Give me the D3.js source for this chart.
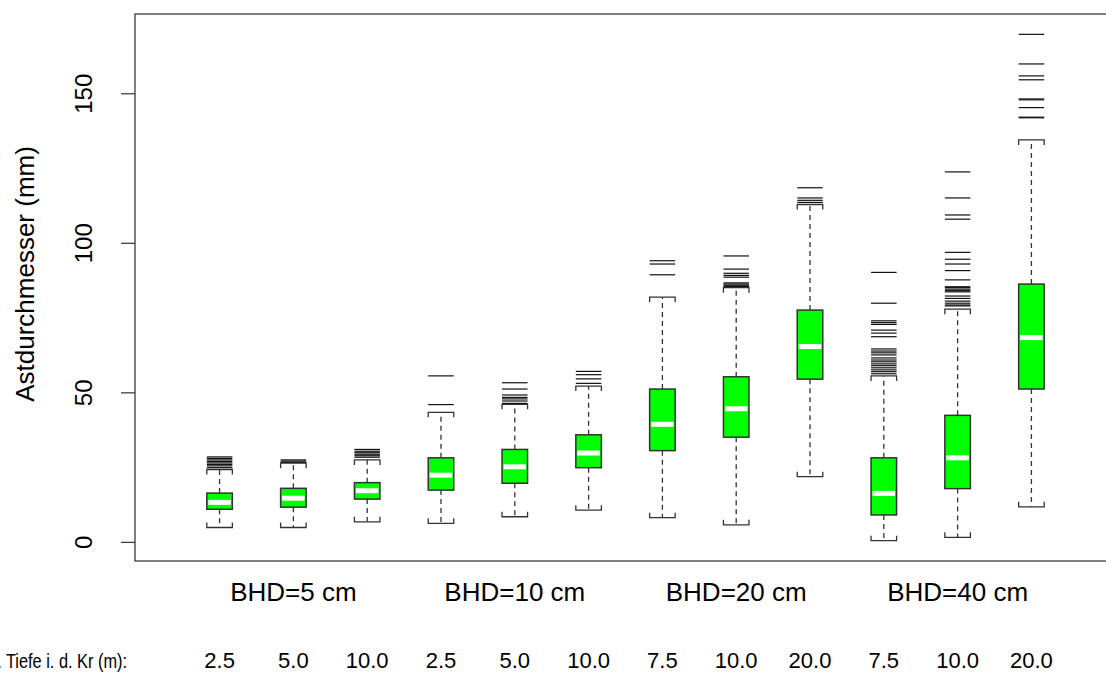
<!DOCTYPE html>
<html>
<head>
<meta charset="utf-8">
<script src="https://cdn.jsdelivr.net/npm/d3@7"></script>
<style>
  html, body { margin: 0; padding: 0; background: #fff; }
  svg { display: block; font-family: "Liberation Sans", Arial, sans-serif; }
</style>
</head>
<body>
<svg id="chart" width="1106" height="673"></svg>
<script>
// Branch diameter by tree size (BHD) and observed depth in the crown
const groups = ["BHD=5 cm", "BHD=10 cm", "BHD=20 cm", "BHD=40 cm"];
const depths = ["2.5", "5.0", "10.0", "2.5", "5.0", "10.0", "7.5", "10.0", "20.0", "7.5", "10.0", "20.0"];
const depthTitle = "Beob. Tiefe i. d. Kr (m):";
const yTicks = [0, 50, 100, 150];

const lowWhisker  = [4.8, 4.8, 6.7, 6.2, 8.4, 10.6, 8.1, 5.7, 21.8, 0.4, 1.5, 11.7];
const q1          = [10.9, 11.6, 14.3, 17.3, 19.6, 24.8, 30.5, 35.0, 54.4, 9.0, 17.8, 51.1];
const medians     = [13.2, 14.6, 17.1, 22.3, 25.1, 29.7, 39.3, 44.5, 65.3, 16.2, 28.1, 68.3];
const q3          = [16.3, 17.9, 19.8, 28.1, 30.9, 35.8, 51.1, 55.2, 77.5, 28.1, 42.3, 86.2];
const highWhisker = [24.2, 26.3, 27.4, 43.3, 46.0, 52.1, 81.8, 85.0, 112.8, 55.5, 77.8, 134.4];
const outliers = [
  [24.8, 25.4, 25.9, 26.4, 26.9, 27.4, 27.9, 28.4],
  [26.6, 27.0, 27.4],
  [28.3, 28.8, 29.3, 29.8, 30.3, 30.9],
  [45.9, 55.5],
  [46.3, 47.1, 47.8, 48.3, 49.1, 51.1, 53.2],
  [53.0, 54.5, 55.9, 57.0],
  [89.3, 92.9, 94.0],
  [85.4, 85.8, 86.2, 86.6, 88.5, 89.1, 89.8, 91.2, 95.6],
  [113.5, 114.2, 115.0, 118.4],
  [56.2, 56.9, 57.5, 58.2, 58.9, 59.5, 60.2, 60.8, 61.5, 62.5, 63.2, 63.8, 64.5,
   68.6, 69.8, 70.8, 72.7, 73.3, 73.9, 79.8, 90.1],
  [78.9, 79.2, 79.8, 80.5, 81.4, 82.2, 83.6, 84.0, 84.5, 85.0, 85.3, 87.6,
   90.7, 92.9, 94.5, 96.8, 107.9, 109.3, 115.0, 123.7],
  [141.8, 142.0, 145.2, 147.8, 148.1, 154.5, 155.8, 159.8, 169.7]
];

const svg = d3.select("#chart");
const frame = { left: 135, right: 1116, top: 14, bottom: 561 };

// slot positions 1..12 along x
const x = d3.scaleLinear().domain([-0.146, 13.146]).range([frame.left, frame.right]);
const y = d3.scaleLinear().domain([-6.4, 176.5]).range([frame.bottom, frame.top]);
const step = x(2) - x(1);
const bw = step * 0.346;
const capTick = 5;

const boxes = depths.map((d, i) => ({
  pos: i + 1, lo: lowWhisker[i], q1: q1[i], med: medians[i], q3: q3[i],
  hi: highWhisker[i], out: outliers[i]
}));

// plot frame
svg.append("rect")
  .attr("x", frame.left).attr("y", frame.top)
  .attr("width", frame.right - frame.left).attr("height", frame.bottom - frame.top)
  .attr("fill", "none").attr("stroke", "#555").attr("stroke-width", 1.5);

// y axis
const yAxis = d3.axisLeft(y).tickValues(yTicks).tickSize(14).tickPadding(0).tickFormat(d3.format("d"));
const ya = svg.append("g").attr("transform", `translate(${frame.left},0)`).call(yAxis);
ya.select(".domain").remove();
ya.selectAll(".tick line").attr("stroke", "#333").attr("stroke-width", 1.2);
ya.selectAll(".tick text")
  .attr("x", null).attr("dy", null)
  .attr("text-anchor", "middle")
  .attr("fill", "#000")
  .style("font-size", "24px")
  .attr("transform", "translate(-43,0) rotate(-90)");

svg.append("text")
  .attr("transform", `translate(34,274) rotate(-90)`)
  .attr("text-anchor", "middle")
  .style("font-size", "26px")
  .text("Astdurchmesser (mm)");

const g = svg.append("g");
const b = g.selectAll("g.box").data(boxes).join("g").attr("class", "box");

// whiskers
b.append("line")
  .attr("x1", d => x(d.pos)).attr("x2", d => x(d.pos))
  .attr("y1", d => y(d.q3)).attr("y2", d => y(d.hi))
  .attr("stroke", "#333").attr("stroke-width", 1.3).attr("stroke-dasharray", "5,4");
b.append("line")
  .attr("x1", d => x(d.pos)).attr("x2", d => x(d.pos))
  .attr("y1", d => y(d.q1)).attr("y2", d => y(d.lo))
  .attr("stroke", "#333").attr("stroke-width", 1.3).attr("stroke-dasharray", "5,4");

// whisker caps
b.append("path")
  .attr("d", d => {
    const l = x(d.pos) - bw / 2, r = x(d.pos) + bw / 2, yy = y(d.hi);
    return `M${l},${yy + capTick}V${yy}H${r}V${yy + capTick}`;
  })
  .attr("fill", "none").attr("stroke", "#333").attr("stroke-width", 1.3);
b.append("path")
  .attr("d", d => {
    const l = x(d.pos) - bw / 2, r = x(d.pos) + bw / 2, yy = y(d.lo);
    return `M${l},${yy - capTick}V${yy}H${r}V${yy - capTick}`;
  })
  .attr("fill", "none").attr("stroke", "#333").attr("stroke-width", 1.3);

// boxes
b.append("rect")
  .attr("x", d => x(d.pos) - bw / 2).attr("width", bw)
  .attr("y", d => y(d.q3)).attr("height", d => y(d.q1) - y(d.q3))
  .attr("fill", "#00ff00").attr("stroke", "#333").attr("stroke-width", 1.5);

// medians
b.append("line")
  .attr("x1", d => x(d.pos) - bw / 2 + 1.5).attr("x2", d => x(d.pos) + bw / 2 - 1.5)
  .attr("y1", d => y(d.med)).attr("y2", d => y(d.med))
  .attr("stroke", "#fff").attr("stroke-width", 5);

// outliers as short horizontal strokes
b.selectAll("line.out").data(d => d.out.map(v => ({ pos: d.pos, v }))).join("line")
  .attr("class", "out")
  .attr("x1", d => x(d.pos) - bw / 2).attr("x2", d => x(d.pos) + bw / 2)
  .attr("y1", d => y(d.v)).attr("y2", d => y(d.v))
  .attr("stroke", "#111").attr("stroke-width", 1.2);

// group labels
svg.selectAll("text.grp").data(groups).join("text")
  .attr("class", "grp")
  .attr("x", (d, i) => x(i * 3 + 2)).attr("y", 601)
  .attr("text-anchor", "middle")
  .style("font-size", "26px")
  .text(d => d);

// depth labels
svg.selectAll("text.depth").data(depths).join("text")
  .attr("class", "depth")
  .attr("x", (d, i) => x(i + 1)).attr("y", 668)
  .attr("text-anchor", "middle")
  .style("font-size", "22px")
  .text(d => d);

svg.append("text")
  .attr("x", 127).attr("y", 668)
  .attr("text-anchor", "end")
  .attr("textLength", 168)
  .attr("lengthAdjust", "spacingAndGlyphs")
  .style("font-size", "21px")
  .text(depthTitle);
</script>
</body>
</html>
